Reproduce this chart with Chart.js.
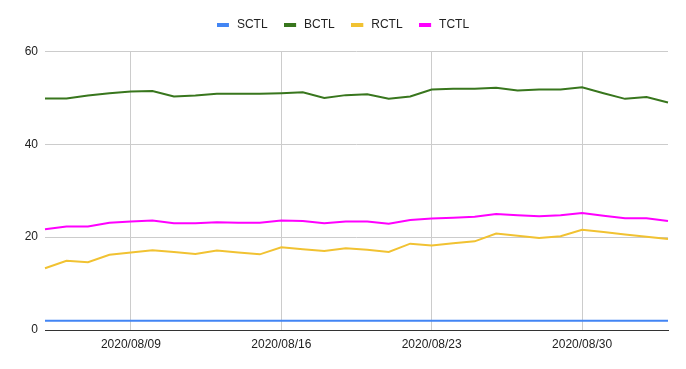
<!DOCTYPE html>
<html>
<head>
<meta charset="utf-8">
<script src="https://cdn.jsdelivr.net/npm/chart.js@4/dist/chart.umd.min.js"></script>
<style>
	html, body { margin: 0; padding: 0; background: #fff; }
	#wrap { width: 686px; height: 369px; }
</style>
</head>
<body>
<div id="wrap"><canvas id="ctl-chart"></canvas></div>
<script>
// dates on the x axis
var days = [
	'2020/08/05', '2020/08/06', '2020/08/07', '2020/08/08', '2020/08/09', '2020/08/10',
	'2020/08/11', '2020/08/12', '2020/08/13', '2020/08/14', '2020/08/15', '2020/08/16',
	'2020/08/17', '2020/08/18', '2020/08/19', '2020/08/20', '2020/08/21', '2020/08/22',
	'2020/08/23', '2020/08/24', '2020/08/25', '2020/08/26', '2020/08/27', '2020/08/28',
	'2020/08/29', '2020/08/30', '2020/08/31', '2020/09/01', '2020/09/02', '2020/09/03'
];

// only these dates get a label + grid line
var shownDays = ['2020/08/09', '2020/08/16', '2020/08/23', '2020/08/30'];

var yTicks = [0, 20, 40, 60];

var sctl = [2, 2, 2, 2, 2, 2, 2, 2, 2, 2, 2, 2, 2, 2, 2, 2, 2, 2, 2, 2, 2, 2, 2, 2, 2, 2, 2, 2, 2, 2];

var bctl = [49.9, 49.9, 50.5, 51.0, 51.4, 51.5, 50.3, 50.5, 50.9, 50.9, 50.9, 51.0, 51.2, 50.0, 50.6,
	50.8, 49.8, 50.3, 51.8, 52.0, 52.0, 52.2, 51.6, 51.8, 51.8, 52.3, 51.0, 49.8, 50.2, 49.0];

var rctl = [13.3, 14.9, 14.6, 16.2, 16.7, 17.2, 16.8, 16.4, 17.1, 16.7, 16.3, 17.8, 17.4, 17.0, 17.6,
	17.3, 16.8, 18.6, 18.2, 18.7, 19.1, 20.8, 20.3, 19.8, 20.2, 21.6, 21.1, 20.6, 20.1, 19.6];

var tctl = [21.7, 22.3, 22.3, 23.1, 23.4, 23.6, 23.0, 23.0, 23.2, 23.1, 23.1, 23.6, 23.5, 23.0, 23.4,
	23.4, 22.9, 23.7, 24.0, 24.2, 24.4, 25.0, 24.7, 24.5, 24.7, 25.2, 24.6, 24.1, 24.1, 23.5];

Chart.defaults.font.family = '"Liberation Sans", Arial, sans-serif';
Chart.defaults.font.size = 12;
Chart.defaults.color = '#222';

// legend swatch: 12x4 bar on a 14px wide canvas, so the text sits a bit further right
function swatch(color) {
	var c = document.createElement('canvas');
	c.width = 14;
	c.height = 4;
	var g = c.getContext('2d');
	g.fillStyle = color;
	g.fillRect(0, 0, 12, 4);
	return c;
}

function line(label, data, color) {
	return {
		label: label,
		data: data,
		borderColor: color,
		backgroundColor: color,
		borderWidth: 2,
		pointRadius: 0,
		pointStyle: swatch(color),
		tension: 0
	};
}

// make the legend box taller so the plot starts lower
var legendGap = {
	id: 'legendGap',
	afterInit: function(chart) {
		var legend = chart.legend;
		if (!legend) return;
		var fit = legend.fit;
		legend.fit = function() {
			fit.call(this);
			this.height += 11;
		};
	}
};

var ctx = document.getElementById('ctl-chart').getContext('2d');

var myChart = new Chart(ctx, {
	type: 'line',
	data: {
		labels: days,
		datasets: [
			line('SCTL', sctl, '#4285f4'),
			line('BCTL', bctl, '#38761d'),
			line('RCTL', rctl, '#f1c232'),
			line('TCTL', tctl, '#ff00ff')
		]
	},
	plugins: [legendGap],
	options: {
		responsive: true,
		maintainAspectRatio: false,
		animation: false,
		layout: {
			padding: { left: 0, right: 0, top: 2, bottom: 0 }
		},
		plugins: {
			legend: {
				display: true,
				position: 'top',
				labels: {
					usePointStyle: true,
					pointStyleWidth: 14,
					boxHeight: 4,
					padding: 16.5,
					color: '#222'
				}
			},
			tooltip: { enabled: false }
		},
		scales: {
			x: {
				offset: false,
				afterBuildTicks: function(axis) {
					axis.ticks = axis.ticks.filter(function(t) {
						return shownDays.indexOf(days[t.value]) !== -1;
					});
				},
				afterFit: function(axis) {
					axis.height = 39;
				},
				ticks: {
					autoSkip: false,
					maxRotation: 0,
					padding: 7,
					color: '#222'
				},
				grid: {
					color: '#cccccc',
					drawTicks: false
				},
				border: {
					display: true,
					color: '#333333',
					width: 1
				}
			},
			y: {
				min: 0,
				max: 60,
				afterBuildTicks: function(axis) {
					axis.ticks = yTicks.map(function(v) { return { value: v }; });
				},
				afterFit: function(axis) {
					axis.width = 45;
				},
				ticks: {
					padding: 7,
					color: '#222'
				},
				grid: {
					color: '#cccccc',
					drawTicks: false
				},
				border: { display: false }
			},
			// empty right gutter, keeps the legend centred on the full width
			gutter: {
				type: 'linear',
				position: 'right',
				display: true,
				afterFit: function(axis) {
					axis.width = 18;
				},
				ticks: { display: false },
				grid: { display: false },
				border: { display: false }
			}
		}
	}
});
</script>
</body>
</html>
